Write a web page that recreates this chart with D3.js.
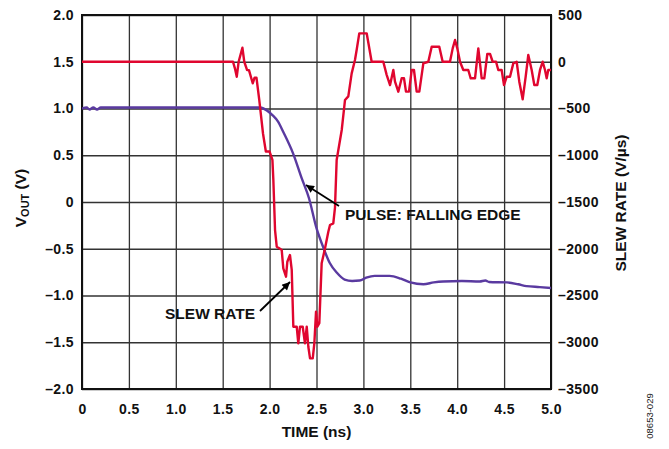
<!DOCTYPE html>
<html>
<head>
<meta charset="utf-8">
<script src="https://cdn.jsdelivr.net/npm/d3@7"></script>
<style>
  body { margin: 0; background: #fff; }
  text { font-family: "Liberation Sans", Arial, sans-serif; }
</style>
</head>
<body>
<div id="chart"></div>
<script>
// x ticks (ns)
const timeTicks = [0, 0.5, 1.0, 1.5, 2.0, 2.5, 3.0, 3.5, 4.0, 4.5, 5.0];
const voutTicks = [-2.0, -1.5, -1.0, -0.5, 0, 0.5, 1.0, 1.5, 2.0];
const slewTicks = [-3500, -3000, -2500, -2000, -1500, -1000, -500, 0, 500];

// VOUT pulse, [time ns, volts]
const voutData = [
  [0, 1.0], [0.05, 1.01], [0.08, 0.99], [0.12, 1.01], [0.16, 0.99], [0.2, 1.01],
  [1.0, 1.01], [1.5, 1.01], [1.9, 1.01], [1.97, 0.98], [2.03, 0.93], [2.09, 0.86],
  [2.15, 0.74], [2.25, 0.52], [2.34, 0.26], [2.42, 0.04], [2.5, -0.28],
  [2.57, -0.48], [2.64, -0.65], [2.72, -0.76], [2.8, -0.83], [2.88, -0.845],
  [2.96, -0.84], [3.03, -0.81], [3.12, -0.79], [3.28, -0.79], [3.4, -0.82],
  [3.5, -0.86], [3.64, -0.88], [3.75, -0.86], [3.85, -0.85], [4.05, -0.845],
  [4.24, -0.85], [4.3, -0.84], [4.34, -0.855], [4.53, -0.86], [4.65, -0.88],
  [4.74, -0.9], [4.88, -0.91], [5.0, -0.92]
];

// slew rate, [time ns, V/us]
const slewData = [
  [0, 0], [1.61, 0], [1.63, -70], [1.65, -160], [1.67, 0], [1.71, 150], [1.73, 0],
  [1.76, -90], [1.78, -90], [1.82, -230], [1.84, -170], [1.86, -170], [1.89, -410],
  [1.93, -770], [1.96, -960], [2.0, -960], [2.03, -1050], [2.04, -1265],
  [2.058, -1800], [2.076, -1978], [2.103, -1995], [2.129, -2013], [2.146, -2209],
  [2.175, -2299], [2.189, -2139], [2.217, -2067], [2.236, -2227], [2.253, -2834],
  [2.289, -2834], [2.306, -3011], [2.324, -2834], [2.353, -2834], [2.377, -3011],
  [2.396, -2834], [2.413, -3048], [2.431, -3172], [2.46, -3172], [2.477, -3011],
  [2.495, -2673], [2.509, -2834], [2.53, -2797], [2.555, -2156], [2.591, -1995],
  [2.626, -1818], [2.644, -1746], [2.679, -1728], [2.697, -1560], [2.715, -1051],
  [2.769, -730], [2.804, -409], [2.839, -370], [2.875, -124], [2.91, 19],
  [2.928, 126], [2.956, 304], [3.035, 304], [3.088, 0], [3.212, 0], [3.248, -140],
  [3.284, -249], [3.319, -88], [3.337, -213], [3.372, -320], [3.408, -177],
  [3.433, -177], [3.454, -320], [3.486, -320], [3.515, -88], [3.539, -88],
  [3.568, -320], [3.596, -320], [3.639, -17], [3.692, 0], [3.728, 161],
  [3.809, 161], [3.845, 0], [3.923, 0], [3.952, 143], [3.977, 233], [4.001, 143],
  [4.03, 0], [4.065, -88], [4.118, -88], [4.144, -177], [4.19, -177], [4.225, 143],
  [4.261, -177], [4.289, -177], [4.321, 83], [4.35, 83], [4.378, 0], [4.414, 0],
  [4.438, -88], [4.474, -88], [4.499, -249], [4.528, -160], [4.563, -160],
  [4.598, -17], [4.634, 0], [4.662, -213], [4.698, -402], [4.73, -160],
  [4.758, 72], [4.794, -88], [4.822, -249], [4.854, -249], [4.883, -88],
  [4.911, 0], [4.936, -88], [4.954, -177], [4.971, -88], [5.0, -88]
];

const W = 669, H = 449;
const pL = 82, pR = 551, pT = 15, pB = 389;

const svg = d3.select("#chart").append("svg")
  .attr("width", W)
  .attr("height", H);

const x = d3.scaleLinear().domain([0, 5]).range([pL, pR]);
const yV = d3.scaleLinear().domain([-2, 2]).range([pB, pT]);
const yS = d3.scaleLinear().domain([-3500, 500]).range([pB, pT]);

const fmtV = d => d === 0 ? "0" : d3.format(".1f")(d).replace(/[-\u2212]/, "\u2013");
const fmtS = d => String(d).replace("-", "\u2013");

const styleTicks = g => g.selectAll("text").attr("font-size", 14).attr("font-weight", "bold")
  .attr("letter-spacing", 0.4)
  .attr("fill", "#111").attr("font-family", "Liberation Sans, Arial, sans-serif");

// grid
svg.append("g")
  .attr("transform", `translate(0,${pB})`)
  .call(d3.axisBottom(x).tickValues(timeTicks).tickSize(-(pB - pT)).tickFormat(""))
  .call(g => g.select(".domain").remove())
  .call(g => g.selectAll("line").attr("stroke", "#333").attr("stroke-width", 1.3));

svg.append("g")
  .attr("transform", `translate(${pL},0)`)
  .call(d3.axisLeft(yV).tickValues(voutTicks).tickSize(-(pR - pL)).tickFormat(""))
  .call(g => g.select(".domain").remove())
  .call(g => g.selectAll("line").attr("stroke", "#333").attr("stroke-width", 1.3));

// tick labels
svg.append("g")
  .attr("transform", `translate(0,${pB})`)
  .call(d3.axisBottom(x).tickValues(timeTicks).tickSize(0).tickPadding(15)
    .tickFormat(d => d === 0 ? "0" : d3.format(".1f")(d)))
  .call(g => g.select(".domain").remove())
  .call(styleTicks);

svg.append("g")
  .attr("transform", `translate(${pL},0)`)
  .call(d3.axisLeft(yV).tickValues(voutTicks).tickSize(0).tickPadding(8).tickFormat(fmtV))
  .call(g => g.select(".domain").remove())
  .call(styleTicks);

svg.append("g")
  .attr("transform", `translate(${pR},0)`)
  .call(d3.axisRight(yS).tickValues(slewTicks).tickSize(0).tickPadding(7).tickFormat(fmtS))
  .call(g => g.select(".domain").remove())
  .call(styleTicks);

// frame
svg.append("rect")
  .attr("x", pL).attr("y", pT)
  .attr("width", pR - pL).attr("height", pB - pT)
  .attr("fill", "none").attr("stroke", "#111").attr("stroke-width", 2);

// lines
svg.append("clipPath").attr("id", "clip")
  .append("rect").attr("x", pL).attr("y", pT - 2)
  .attr("width", pR - pL).attr("height", pB - pT + 4);

svg.append("path")
  .datum(voutData)
  .attr("clip-path", "url(#clip)")
  .attr("fill", "none")
  .attr("stroke", "#5a3aa0")
  .attr("stroke-width", 2.4)
  .attr("d", d3.line().x(d => x(d[0])).y(d => yV(d[1])).curve(d3.curveMonotoneX));

svg.append("path")
  .datum(slewData)
  .attr("clip-path", "url(#clip)")
  .attr("fill", "none")
  .attr("stroke", "#e0062f")
  .attr("stroke-width", 2.4)
  .attr("stroke-linejoin", "round")
  .attr("d", d3.line().x(d => x(d[0])).y(d => yS(d[1])));

// annotations
svg.append("defs").append("marker")
  .attr("id", "arrow")
  .attr("viewBox", "0 0 10 10")
  .attr("refX", 10).attr("refY", 5)
  .attr("markerWidth", 11).attr("markerHeight", 8)
  .attr("markerUnits", "userSpaceOnUse")
  .attr("orient", "auto")
  .append("path").attr("d", "M0,0L10,5L0,10Z").attr("fill", "#000");

const notes = [
  { text: "PULSE: FALLING EDGE", tx: 345, ty: 220, ax1: 339, ay1: 206, ax2: 306, ay2: 185 },
  { text: "SLEW RATE", tx: 165, ty: 319, ax1: 260, ay1: 311, ax2: 290, ay2: 282 }
];
notes.forEach(n => {
  svg.append("line")
    .attr("x1", n.ax1).attr("y1", n.ay1).attr("x2", n.ax2).attr("y2", n.ay2)
    .attr("stroke", "#000").attr("stroke-width", 1.8)
    .attr("marker-end", "url(#arrow)");
  svg.append("text")
    .attr("x", n.tx).attr("y", n.ty)
    .attr("font-size", 15.5).attr("font-weight", "bold").attr("fill", "#111")
    .text(n.text);
});

// axis titles
svg.append("text")
  .attr("x", (pL + pR) / 2).attr("y", 437)
  .attr("text-anchor", "middle")
  .attr("font-size", 15.5).attr("font-weight", "bold").attr("fill", "#111")
  .text("TIME (ns)");

const yl = svg.append("text")
  .attr("transform", "translate(26,198) rotate(-90)")
  .attr("text-anchor", "middle")
  .attr("font-size", 15.5).attr("font-weight", "bold").attr("fill", "#111");
yl.append("tspan").text("V");
yl.append("tspan").attr("font-size", 11).attr("dy", 3).text("OUT");
yl.append("tspan").attr("dy", -3).text(" (V)");

svg.append("text")
  .attr("transform", "translate(626,203) rotate(-90)")
  .attr("text-anchor", "middle")
  .attr("font-size", 15.5).attr("font-weight", "bold").attr("fill", "#111")
  .text("SLEW RATE (V/\u00b5s)");

svg.append("text")
  .attr("transform", "translate(653,416) rotate(-90)")
  .attr("text-anchor", "middle")
  .attr("font-size", 9.5).attr("fill", "#222")
  .text("08653-029");
</script>
</body>
</html>
